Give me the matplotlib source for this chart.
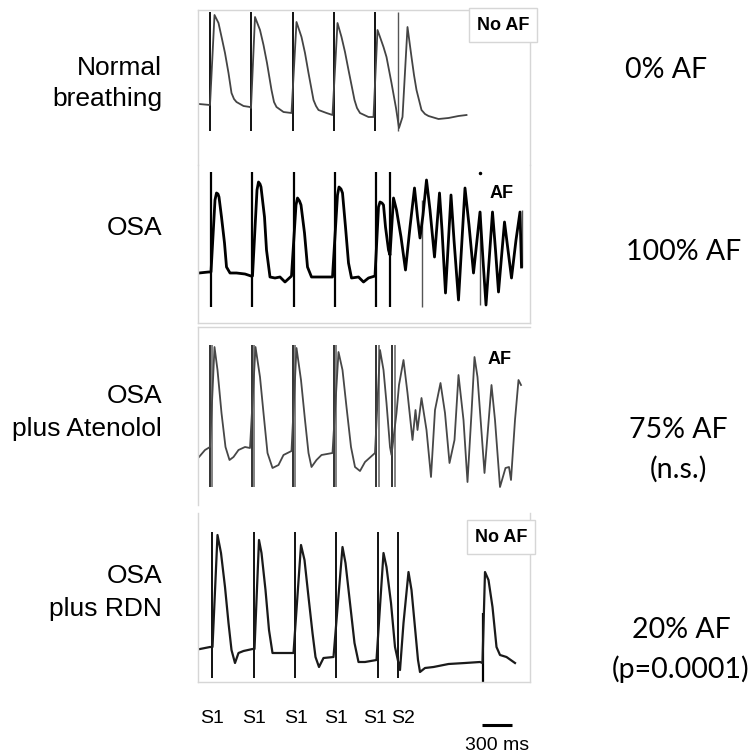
import matplotlib
matplotlib.use("Agg")
import matplotlib.pyplot as plt
from matplotlib.transforms import blended_transform_factory

# ---- data: time (ms), signal (arbitrary units) ----
# Normal breathing
p1_t = [10, 120, 165, 205, 240, 270, 305, 335, 360, 385, 455, 520, 530, 570, 620, 655, 690, 735,
        760, 785, 855, 935, 985, 1035, 1070, 1105, 1155, 1180, 1205, 1285, 1345, 1395, 1435,
        1470, 1505, 1565, 1590, 1620, 1705, 1755, 1795, 1820, 1855, 1885, 1935, 1980, 2010,
        2045, 2095, 2135, 2160, 2185, 2235, 2270, 2305, 2405, 2505, 2605, 2685]
p1_v = [61, 60, 150, 142, 126, 112, 92, 72, 66, 63, 59, 58, 57, 148, 135, 120, 102, 75,
        63, 58, 53, 52, 143, 128, 112, 92, 65, 59, 55, 52, 50, 142, 128,
        113, 95, 65, 57, 52, 48, 48, 135, 128, 118, 108, 82, 57, 37,
        48, 138, 108, 90, 75, 55, 51, 49, 46, 47, 49, 50]
p1_stim = [120, 530, 945, 1355, 1765, 1995]

# OSA
p2_t = [10, 105, 130, 170, 185, 200, 210, 235, 265, 285, 320, 385, 470, 530, 545, 590, 605, 620,
        630, 665, 685, 720, 770, 820, 870, 935, 980, 995, 1015, 1030, 1065, 1095, 1135, 1235,
        1345, 1395, 1410, 1430, 1445, 1475, 1505, 1535, 1605, 1655, 1705, 1770, 1805, 1820,
        1840, 1855, 1875, 1905, 1920, 1955, 1985, 2030, 2075, 2120, 2165, 2195, 2220, 2250,
        2285, 2320, 2365, 2415, 2440, 2475, 2530, 2560, 2605, 2670, 2710, 2755, 2820, 2850,
        2880, 2945, 2975, 3005, 3065, 3100, 3135, 3180, 3220, 3235]
p2_v = [52, 53, 53, 125, 132, 131, 128, 108, 82, 58, 52, 52, 51, 49, 49, 135, 143, 141,
        138, 108, 75, 48, 47, 48, 43, 49, 120, 127, 124, 120, 92, 58, 48, 48,
        48, 130, 138, 136, 132, 98, 62, 47, 48, 43, 47, 49, 118, 123,
        122, 120, 98, 75, 70, 127, 115, 88, 55, 98, 137, 108, 87, 110,
        145, 115, 68, 132, 95, 32, 130, 85, 25, 137, 100, 52, 113, 65,
        20, 113, 75, 33, 103, 75, 47, 85, 113, 58]
p2_stim = [130, 545, 955, 1365, 1780, 1920]
p2_art_t = [2235, 2820, 3235]
p2_art_top = [125, 114, 115]
p2_art_bot = [18, 20, 58]

# OSA plus Atenolol
p3_t = [10, 70, 120, 165, 195, 235, 275, 315, 355, 405, 470, 520, 575, 620, 655, 695, 745, 805,
        855, 935, 985, 1030, 1070, 1105, 1135, 1185, 1235, 1345, 1405, 1445, 1485, 1530, 1570,
        1620, 1670, 1770, 1820, 1855, 1885, 1920, 1935, 1985, 2010, 2055, 2095, 2145, 2175,
        2195, 2235, 2285, 2330, 2370, 2425, 2470, 2515, 2565, 2605, 2655, 2695, 2735, 2765,
        2795, 2865, 2935, 2970, 3020, 3075, 3110, 3130, 3170, 3205, 3230]
p3_v = [43, 50, 53, 153, 130, 87, 53, 40, 43, 50, 53, 52, 153, 123, 87, 47, 32, 35,
        45, 49, 152, 120, 80, 47, 33, 40, 45, 47, 148, 130, 93, 53, 33,
        29, 38, 47, 150, 130, 97, 53, 45, 87, 115, 140, 107, 60, 90,
        70, 102, 70, 23, 90, 117, 87, 37, 60, 125, 80, 18, 87, 143,
        123, 27, 115, 80, 13, 32, 33, 20, 80, 120, 115]
p3_stim = [125, 540, 945, 1360, 1780, 1940]
p3_stim_b = [145, 565, 965, 1375, 1805, 1970]

# OSA plus RDN
p4_t = [20, 120, 145, 195, 230, 270, 305, 335, 370, 405, 455, 545, 565, 610, 635, 675, 710, 745,
        805, 955, 1030, 1065, 1105, 1145, 1175, 1210, 1255, 1355, 1445, 1475, 1520, 1565, 1605,
        1670, 1785, 1855, 1885, 1930, 1970, 2020, 2055, 2105, 2135, 2175, 2200, 2220, 2270,
        2355, 2505, 2670, 2820, 2845, 2870, 2905, 2945, 2985, 3020, 3085, 3170]
p4_v = [33, 35, 35, 147, 129, 95, 59, 32, 19, 29, 31, 33, 33, 142, 129, 92, 52, 29,
        29, 29, 137, 122, 85, 49, 25, 15, 24, 25, 135, 119, 79, 39, 20,
        20, 22, 129, 115, 79, 35, 12, 59, 110, 92, 49, 22, 10, 14,
        15, 18, 19, 20, 19, 110, 102, 75, 35, 27, 25, 19]
p4_stim = [145, 565, 965, 1375, 1795, 1995]
p4_beat = 2845

row_labels = [["Normal", "breathing"], ["OSA"], ["OSA", "plus Atenolol"], ["OSA", "plus RDN"]]
af_labels = [["0% AF"], ["100% AF"], ["75% AF", "(n.s.)"], ["20% AF", "(p=0.0001)"]]
box_labels = ["No AF", "AF", "AF", "No AF"]
stim_names = ["S1", "S1", "S1", "S1", "S1", "S2"]
stim_name_t = [140, 560, 980, 1380, 1770, 2050]
scale_ms = 300

W, H = 755, 753
fig = plt.figure(figsize=(W / 100, H / 100), dpi=100)
grey = "#d6d6d6"


def panel(top, bottom, ylo, yhi, spines):
    ax = fig.add_axes([198 / W, 1 - bottom / H, 332 / W, (bottom - top) / H])
    ax.set_xlim(0, 3320)
    ax.set_ylim(ylo, yhi)
    ax.set_xticks([])
    ax.set_yticks([])
    for s in ["top", "bottom", "left", "right"]:
        ax.spines[s].set_visible(s in spines)
        ax.spines[s].set_color(grey)
        ax.spines[s].set_linewidth(1)
    ax.patch.set_alpha(0)
    return ax


ax1 = panel(10, 165, 0, 155, ["top", "left", "right"])
ax2 = panel(165, 323, 2, 160, ["left", "right", "bottom"])
ax3 = panel(327, 505, -5, 173, ["top", "left"])
ax4 = panel(513, 682, 0, 169, ["left", "right", "bottom"])

# panel 1
ax1.vlines(p1_stim[:-1], 34, 153, color="#111111", lw=1.4)
ax1.vlines(p1_stim[-1], 34, 153, color="#555555", lw=1.0)
ax1.plot(p1_t, p1_v, color="#444444", lw=1.3)

# panel 2
ax2.vlines(p2_stim, 18, 153, color="black", lw=1.6)
ax2.vlines(p2_art_t, p2_art_bot, p2_art_top, color="#555555", lw=1.0)
ax2.plot(p2_t, p2_v, color="black", lw=2.0)
ax2.plot([2820], [152], "o", color="black", ms=1.5)

# panel 3
ax3.vlines(p3_stim, 13, 155, color="#222222", lw=1.3)
ax3.vlines(p3_stim_b, 13, 155, color="#777777", lw=1.3)
ax3.plot(p3_t, p3_v, color="#474747", lw=1.3)

# panel 4
ax4.vlines(p4_stim, 4, 150, color="#111111", lw=1.4)
ax4.vlines(p4_beat, 0, 69, color="black", lw=1.6)
ax4.plot(p4_t, p4_v, color="#1a1a1a", lw=1.6)

# in-panel labels
lab_kw = dict(fontsize=13, fontweight="bold", family="Liberation Sans",
              ha="center", va="center")
box = dict(boxstyle="square,pad=0.45", fc="white", ec=grey, lw=1)
ax1.text(3050, 140, box_labels[0], bbox=box, **lab_kw)
ax2.text(3040, 132, box_labels[1], **lab_kw)
ax3.text(3020, 140, box_labels[2], **lab_kw)
ax4.text(3030, 145, box_labels[3], bbox=box, **lab_kw)

# left row labels and right AF percentages (baselines in figure pixels)
left_base = [[75, 106], [235], [403, 436], [583, 616]]
right_x = [666, 684, 678, 681]
right_base = [[78], [260], [438, 478], [638, 678]]
for lines, bases in zip(row_labels, left_base):
    for lab, y in zip(lines, bases):
        fig.text(162 / W, 1 - y / H, lab, ha="right", va="baseline", fontsize=19,
                 family="Liberation Sans")
for lines, x, bases in zip(af_labels, right_x, right_base):
    for lab, y in zip(lines, bases):
        fig.text(x / W, 1 - y / H, lab, ha="center", va="baseline", fontsize=20.5,
                 family="Lato")

# stimulus names and scale bar under the traces
tr = blended_transform_factory(ax4.transData, fig.transFigure)
for name, t in zip(stim_names, stim_name_t):
    ax4.text(t, 1 - 723 / H, name, transform=tr, ha="center", va="baseline",
             fontsize=14, family="Liberation Sans")
ax4.plot([2840, 2840 + scale_ms], [1 - 725 / H] * 2, transform=tr, color="black",
         lw=2.2, clip_on=False, solid_capstyle="butt")
ax4.text(2840 + scale_ms / 2, 1 - 750 / H, f"{scale_ms} ms", transform=tr,
         ha="center", va="baseline", fontsize=14, family="Liberation Sans")

fig.savefig("out.png", dpi=100)
